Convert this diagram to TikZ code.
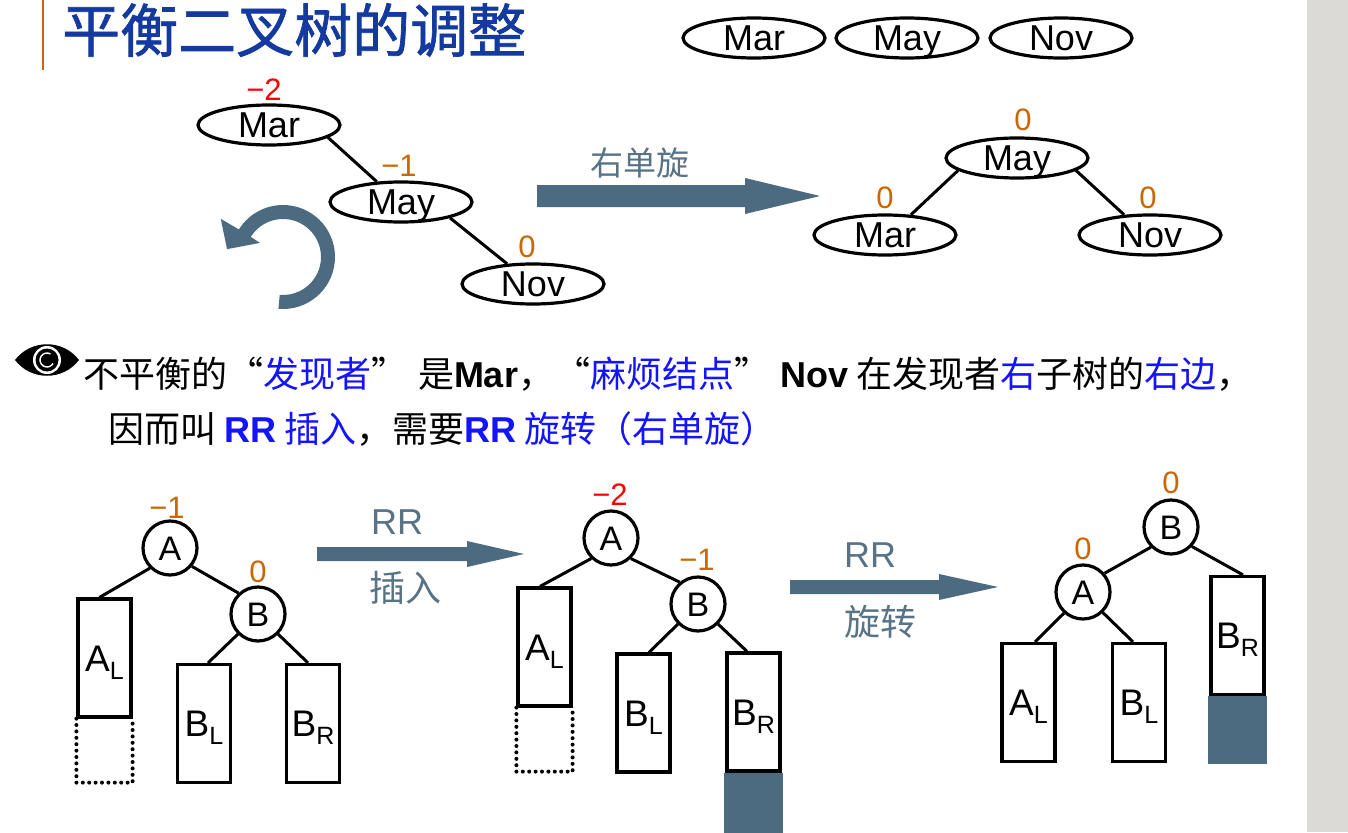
\documentclass[tikz,border=0pt]{standalone}
\usepackage{fontspec}
\setmainfont{Liberation Sans}
\newfontfamily\cjk{Noto Sans CJK SC}
\newfontfamily\cjkt[FakeBold=1.2]{Noto Sans CJK SC}
\newfontfamily\lsans{Liberation Sans}
\usetikzlibrary{shapes.geometric,calc}
\definecolor{titleblue}{RGB}{20,58,160}
\definecolor{txtblue}{RGB}{20,20,255}
\definecolor{balorange}{RGB}{204,102,0}
\definecolor{steel}{RGB}{76,106,128}
\definecolor{steeltext}{RGB}{88,114,134}
\definecolor{stripgray}{RGB}{220,218,215}
\definecolor{titleorange}{RGB}{200,100,30}
\newcommand\fsz[1]{\fontsize{#1}{#1}\selectfont}
\newcommand\sbx[2]{#1{\fsz{25}\raisebox{-8pt}{#2}}}
\newcommand\oq{\makebox[1em][r]{“}}
\newcommand\cq{\makebox[1.3em][l]{”}}
\tikzset{
  ell/.style={draw, ellipse, line width=3.2pt, minimum width=142pt, minimum height=40pt, inner sep=0pt, font=\fsz{36}, text height=25.5pt, text depth=0pt},
  circ/.style={draw, circle, line width=3.2pt, minimum size=54pt, inner sep=0pt, font=\fsz{34}, text height=24.3pt, text depth=0pt},
  subtree/.style={draw, rectangle, line width=3.2pt, minimum width=53pt, minimum height=118pt, inner sep=0pt, font=\fsz{37}, text height=26.5pt, text depth=0pt},
  bal/.style={text=balorange, font=\fsz{31}, inner sep=0pt},
  balr/.style={bal, text=red},
  link/.style={line width=3pt},
  bigarr/.style={fill=steel},
  arrlab/.style={text=steeltext, font=\fsz{36}, inner sep=0pt},
  dotbox/.style={line width=4pt, dash pattern=on 0pt off 6.4pt, line cap=round},
}
\begin{document}
\begin{tikzpicture}[x=1pt,y=-1pt]
\useasboundingbox (0,0) rectangle (1348,832);
\fill[white] (0,0) rectangle (1348,832);
\fill[stripgray] (1307,0) rectangle (1348,832);
\draw[titleorange, line width=2.5pt] (43,0) -- (43,70);
\node[anchor=west, inner sep=0pt, font=\cjkt\fsz{58}, text=titleblue] (title) at (62,30) {平衡二叉树的调整};

% top row
\node[ell] (t1) at (754,38) {Mar};
\node[ell] (t2) at (907,38) {May};
\node[ell] (t3) at (1061,38) {Nov};

% top-left tree
\node[ell] (mar) at (269,125) {Mar};
\node[ell] (may) at (401,202) {May};
\node[ell] (nov) at (533,284) {Nov};
\node[balr] (lmar) at (264,90) {−2};
\node[bal] (lmay) at (399,166) {−1};
\node[bal] (lnov) at (527,247) {0};
\draw[link] (mar.-12) -- (may.140);
\draw[link] (may.-18) -- (nov.142);

% rotation arrow
\coordinate (rc) at (283,257);
\fill[steel] ($(rc)+(-95:52pt)$) arc[start angle=-95, end angle=148, radius=52pt]
  -- ($(rc)+(148.5:73pt)$) -- ($(rc)+(172:56.5pt)$) -- ($(rc)+(148.5:27pt)$)
  -- ($(rc)+(148:38pt)$) arc[start angle=148, end angle=-95, radius=38pt] -- cycle;

% top arrow
\fill[bigarr] (537,185) -- (745,185) -- (745,178) -- (820,196) -- (745,214) -- (745,207) -- (537,207) -- cycle;
\node[arrlab, font=\cjk\fsz{33}] (rot) at (640,163) {右单旋};

% top-right tree
\node[ell] (may2) at (1017,158) {May};
\node[ell] (mar2) at (885,235) {Mar};
\node[ell] (nov2) at (1150,235) {Nov};
\node[bal] (lmay2) at (1023,120) {0};
\node[bal] (lmar2) at (885,198) {0};
\node[bal] (lnov2) at (1148,198) {0};
\draw[link] (may2.192) -- (mar2.38);
\draw[link] (may2.-12) -- (nov2.142);

% eye icon
\coordinate (eye) at (47,360);
\fill[black] ($(eye)+(-32pt,0)$) .. controls ($(eye)+(-16pt,21pt)$) and ($(eye)+(16pt,21pt)$) .. ($(eye)+(32pt,0)$) .. controls ($(eye)+(16pt,-21pt)$) and ($(eye)+(-16pt,-21pt)$) .. cycle;
\fill[white] (eye) circle[radius=14pt];
\fill[black] (eye) circle[radius=11.5pt];
\draw[white, line width=1.4pt] ($(eye)+(60:7pt)$) arc[start angle=60, end angle=330, radius=7pt];

% text lines
\node[anchor=west, inner sep=0pt, font=\cjk\fsz{36}] (line1) at (83,374) {不平衡的\oq\textcolor{txtblue}{发现者}\cq 是{\lsans\bfseries Mar}，\oq\textcolor{txtblue}{麻烦结点}\cq{\lsans\bfseries Nov} 在发现者\textcolor{txtblue}{右}子树的\textcolor{txtblue}{右边}，};
\node[anchor=west, inner sep=0pt, font=\cjk\fsz{36}] (line2) at (108,429) {因而叫 \textcolor{txtblue}{{\lsans\bfseries RR} 插入}，需要\textcolor{txtblue}{{\lsans\bfseries RR} 旋转（右单旋）}};

% bottom-left tree
\node[circ] (a1) at (170,548) {A};
\node[circ] (b1) at (258,614) {B};
\node[subtree] (al1) at (104.5,658) {\sbx{A}{L}};
\node[subtree] (bl1) at (204,723.5) {\sbx{B}{L}};
\node[subtree] (br1) at (313,723.5) {\sbx{B}{R}};
\node[bal] (la1) at (167,508) {−1};
\node[bal] (lb1) at (258,572) {0};
\draw[link] (a1.-135) -- ($(al1.north)+(-5,0)$);
\draw[link] (a1.-40) -- (b1.133);
\draw[link] (b1.-135) -- ($(bl1.north)+(4,0)$);
\draw[link] (b1.-45) -- ($(br1.north)+(-5,0)$);
\draw[dotbox] (al1.south west) -- ++(0,64) -- ($(al1.south east)+(0,64)$) -- (al1.south east);

% arrow RR insert
\fill[bigarr] (317,547) -- (467,547) -- (467,541) -- (524,554) -- (467,567) -- (467,561) -- (317,561) -- cycle;
\node[arrlab] (rr1) at (397,522) {RR};
\node[arrlab, font=\cjk\fsz{36}] (ins) at (405,588) {插入};

% middle tree
\node[circ] (a2) at (611,538) {A};
\node[circ] (b2) at (698,604) {B};
\node[subtree] (al2) at (544.5,647) {\sbx{A}{L}};
\node[subtree] (bl2) at (643.5,713) {\sbx{B}{L}};
\node[subtree] (br2) at (753.5,712) {\sbx{B}{R}};
\fill[steel] ($(br2.south west)+(-1.6,0)$) rectangle ($(br2.south east)+(1.6,62)$);
\node[balr] (la2) at (610,495) {−2};
\node[bal] (lb2) at (697,560) {−1};
\draw[link] (a2.-134) -- ($(al2.north)+(-4.5,0)$);
\draw[link] (a2.-46) -- (b2.130);
\draw[link] (b2.-135) -- ($(bl2.north)+(5.5,0)$);
\draw[link] (b2.-45) -- ($(br2.north)+(-6.5,0)$);
\draw[dotbox] (al2.south west) -- ++(0,64) -- ($(al2.south east)+(0,64)$) -- (al2.south east);

% arrow RR rotate
\fill[bigarr] (790,580) -- (939,580) -- (939,574) -- (998,587) -- (939,600) -- (939,594) -- (790,594) -- cycle;
\node[arrlab] (rr2) at (870,555) {RR};
\node[arrlab, font=\cjk\fsz{36}] (rotl) at (880,622) {旋转};

% right tree
\node[circ] (b3) at (1171,527) {B};
\node[circ] (a3) at (1083,592) {A};
\node[subtree] (al3) at (1028.5,702.5) {\sbx{A}{L}};
\node[subtree] (bl3) at (1139,702.5) {\sbx{B}{L}};
\node[subtree] (br3) at (1237.5,635.5) {\sbx{B}{R}};
\fill[steel] ($(br3.south west)+(-1.6,0)$) rectangle ($(br3.south east)+(1.6,68)$);
\node[bal] (lb3) at (1171,483) {0};
\node[bal] (la3) at (1083,549) {0};
\draw[link] (b3.-135) -- (a3.41);
\draw[link] (b3.-43) -- ($(br3.north)+(5.5,0)$);
\draw[link] (a3.-132) -- ($(al3.north)+(6.5,0)$);
\draw[link] (a3.-46) -- ($(bl3.north)+(-6,0)$);
\end{tikzpicture}
\end{document}
